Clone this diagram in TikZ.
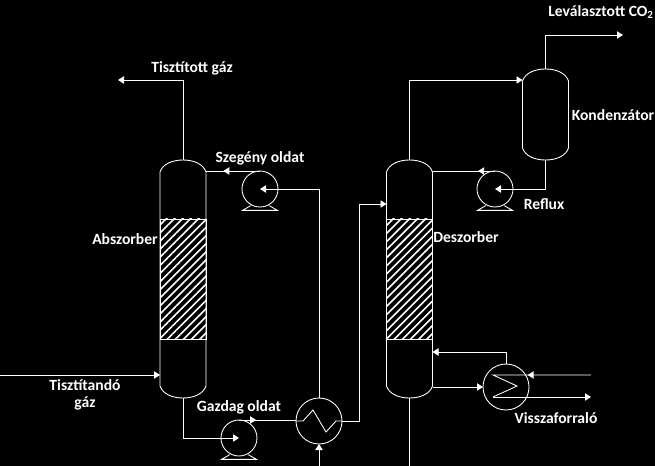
\documentclass[tikz,border=0pt]{standalone}
\usepackage{fontspec}
\setmainfont{Carlito}
\usetikzlibrary{arrows.meta,calc,patterns.meta,decorations.markings}

\newcommand{\vesselshape}[1]{%
    \draw [white, line width=.65pt] ([yshift=-9pt]#1.north west)
        .. controls ([xshift=2pt,yshift=-3pt]#1.north west) and ([xshift=-8pt]#1.north) .. (#1.north)
        .. controls ([xshift=8pt]#1.north) and ([xshift=-2pt,yshift=-3pt]#1.north east) .. ([yshift=-9pt]#1.north east)
        -- ([yshift=9pt]#1.south east)
        .. controls ([xshift=-2pt,yshift=3pt]#1.south east) and ([xshift=8pt]#1.south) .. (#1.south)
        .. controls ([xshift=-8pt]#1.south) and ([xshift=2pt,yshift=3pt]#1.south west) .. ([yshift=9pt]#1.south west)
        -- cycle;
}

\begin{document}
\begin{tikzpicture}[
    x=.75pt, y=-.75pt,
    outer sep=0pt,
    line/.style={white, line width=.65pt},
    flow/.style={line, -{Triangle[length=4.5pt,width=5.5pt]}},
    midflow/.style={line, postaction={decorate}, decoration={markings, mark=at position #1 with {\arrow{Triangle[length=4.5pt,width=5.5pt]}}}},
    vesselbox/.style={minimum width=34.5pt, inner sep=0pt},
    packing/.style={draw=white, line width=.65pt, minimum width=34.5pt, minimum height=90pt, inner sep=0pt, pattern={Lines[angle=45,distance=4.3pt,line width=1.2pt]}, pattern color=white},
    pump/.style={circle, draw=white, line width=.65pt, minimum size=27pt, inner sep=0pt},
    exchanger/.style={circle, draw=white, line width=.65pt, minimum size=34.5pt, inner sep=0pt},
    label/.style={text=white, font=\bfseries\fontsize{11.7}{13}\selectfont, align=center, inner sep=0pt}
]
    \useasboundingbox [fill=black] (0,0) rectangle (655,466);

    % columns and condenser
    \node [vesselbox, minimum height=178.5pt] (abszorber) at (183,279) {};
    \node [vesselbox, minimum height=178.5pt] (deszorber) at (409.5,279) {};
    \node [vesselbox, minimum height=68.25pt] (kondenzator) at (545.5,114.5) {};
    \foreach \v in {abszorber,deszorber,kondenzator} {\vesselshape{\v}}
    \node [packing] (toltet1) at (183,279) {};
    \node [packing] (toltet2) at (409.5,279) {};

    % pumps and exchangers
    \node [pump] (pump1) at (260,189) {};
    \node [pump] (pump2) at (495,189) {};
    \node [pump] (pump3) at (239,438) {};
    \node [exchanger] (hocsere) at (319,421) {};
    \node [exchanger] (forralo) at (506,387) {};
    \foreach \p in {pump1,pump2,pump3} {
        \draw [line] ([xshift=-7pt,yshift=-12.5pt]\p.center) -- ([xshift=-13pt,yshift=-16pt]\p.center)
            -- ([xshift=13pt,yshift=-16pt]\p.center) -- ([xshift=7pt,yshift=-12.5pt]\p.center);
    }

    % free ends
    \coordinate (gazbe) at (0,375);
    \coordinate (gazki) at (118,80);
    \coordinate (co2ki) at (623,35);
    \coordinate (alul) at (409.5,466);
    \coordinate (alul2) at (319,466);
    \coordinate (futobe) at (591,375);
    \coordinate (futoki) at (591,397);

    % absorber side
    \draw [flow] (gazbe) -- (abszorber.west |- gazbe);
    \draw [flow] (abszorber.north) |- (gazki);
    \draw [midflow=.68] (pump1.north) -- (pump1.north -| abszorber.east);
    \draw [flow] (hocsere.north) |- (pump1.center);
    \draw [flow] (abszorber.south) |- (pump3.center);
    \draw [midflow=.3] (pump3.north) -- (hocsere.west |- pump3.north);
    \draw [flow] (hocsere.east) -- ++(17,0) |- (deszorber.west |- 0,204);
    \draw [flow] (alul2) -- (hocsere.south);
    \draw [line] (hocsere.west) -- ++(7,0) -- ++(10,-11) -- ++(13,22) -- ++(10,-11) -- (hocsere.east);

    % desorber side
    \draw [flow] (deszorber.north) |- (kondenzator.west |- 0,80);
    \draw [flow] (kondenzator.north) |- (co2ki);
    \draw [flow] (kondenzator.south) |- (pump2.center);
    \draw [midflow=.27] (pump2.north) -- (pump2.north -| deszorber.east);
    \draw [line] (deszorber.south) -- (alul);
    \draw [flow] (deszorber.east |- forralo.west) -- (forralo.west);
    \draw [flow] (forralo.north) |- (deszorber.east |- 0,352);
    \draw [midflow=.42] (futobe) -- (493,375) -- (517,386) -- (493,397);
    \draw [flow] (493,397) -- (futoki);

    % labels
    \node [label] (lbl1) at (192,68) {Tisztított gáz};
    \node [label] (lbl2) at (125,239) {Abszorber};
    \node [label] (lbl3) at (260,158) {Szegény oldat};
    \node [label] (lbl4) at (85,395) {Tisztítandó\\gáz};
    \node [label] (lbl5) at (239,407) {Gazdag oldat};
    \node [label] (lbl6) at (466,237) {Deszorber};
    \node [label] (lbl7) at (601,12) {Leválasztott CO\textsubscript{2}};
    \node [label] (lbl8) at (613,115) {Kondenzátor};
    \node [label] (lbl9) at (544,204) {Reflux};
    \node [label] (lbl10) at (556,418) {Visszaforraló};
\end{tikzpicture}
\end{document}
